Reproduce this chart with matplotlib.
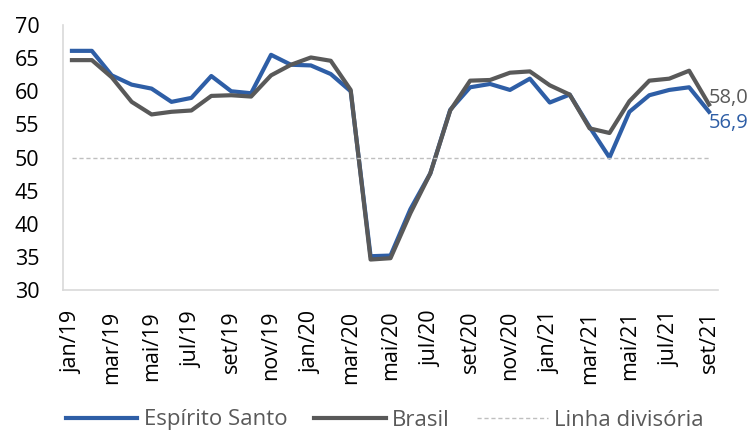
import matplotlib
matplotlib.use("Agg")
import matplotlib.pyplot as plt

plt.rcParams['font.family'] = ['Open Sans', 'DejaVu Sans']

months = ["jan/19","fev/19","mar/19","abr/19","mai/19","jun/19","jul/19","ago/19","set/19","out/19",
          "nov/19","dez/19","jan/20","fev/20","mar/20","abr/20","mai/20","jun/20","jul/20","ago/20",
          "set/20","out/20","nov/20","dez/20","jan/21","fev/21","mar/21","abr/21","mai/21","jun/21",
          "jul/21","ago/21","set/21"]
espirito_santo = [66.1, 66.1, 62.4, 61.0, 60.4, 58.4, 59.0, 62.3, 60.0, 59.7,
                  65.5, 64.0, 63.9, 62.6, 60.0, 35.1, 35.2, 42.2, 47.6, 57.2,
                  60.6, 61.1, 60.2, 61.9, 58.3, 59.5, 54.6, 50.0, 56.9, 59.4,
                  60.2, 60.6, 56.9]
brasil = [64.7, 64.7, 62.1, 58.4, 56.5, 56.9, 57.1, 59.3, 59.4, 59.2,
          62.4, 64.0, 65.1, 64.6, 60.2, 34.6, 34.8, 41.6, 47.6, 57.1,
          61.6, 61.7, 62.8, 63.0, 60.9, 59.5, 54.4, 53.7, 58.5, 61.6,
          61.9, 63.1, 58.0]
linha = [50] * len(months)

blue = "#2E5EA6"
gray = "#595959"

fig = plt.figure(figsize=(7.48, 4.32), dpi=100)
ax = fig.add_axes([0.0842, 0.3287, 0.8757, 0.6134])
x = list(range(len(months)))
ax.plot(x, espirito_santo, color=blue, lw=3.0, label="Espírito Santo")
ax.plot(x, brasil, color=gray, lw=3.0, label="Brasil")
ax.plot(x, linha, color="#BFBFBF", lw=1.0, ls=(0, (3, 2)), label="Linha divisória")

ax.set_ylim(30, 70)
ax.set_yticks(range(30, 71, 5))
ax.set_xlim(-0.45, len(months) - 1 + 0.45)
ax.set_xticks(x[::2])
ax.set_xticklabels(months[::2], rotation=90)
ax.tick_params(axis='both', labelsize=15.5, colors="#000000", length=0)
ax.tick_params(axis='x', pad=15)
ax.tick_params(axis='y', pad=17)
for s in ["top", "right"]:
    ax.spines[s].set_visible(False)
for s in ["left", "bottom"]:
    ax.spines[s].set_color("#D9D9D9")
    ax.spines[s].set_linewidth(1.2)

ax.annotate(f"{brasil[-1]:.1f}".replace(".", ","), (x[-1], brasil[-1]), xytext=(0, 5),
            textcoords="offset points", color=gray, fontsize=14.5, va="center", ha="left",
            annotation_clip=False)
ax.annotate(f"{espirito_santo[-1]:.1f}".replace(".", ","), (x[-1], espirito_santo[-1]), xytext=(0, -8),
            textcoords="offset points", color=blue, fontsize=14.5, va="center", ha="left",
            annotation_clip=False)

fig.legend(loc="center", bbox_to_anchor=(0.515, 1 - 420 / 432), ncol=3, frameon=False,
           fontsize=16, handlelength=3.2, columnspacing=1.2, handletextpad=0.3,
           labelcolor="#595959")
fig.savefig("out.png", dpi=100)
